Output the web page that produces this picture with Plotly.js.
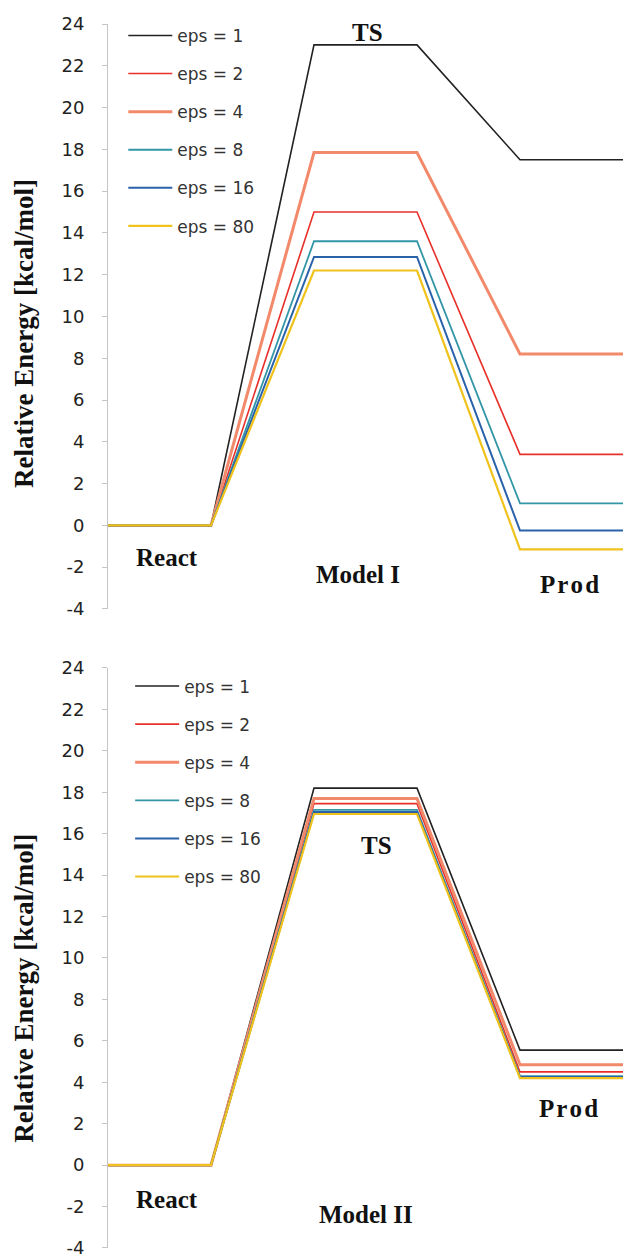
<!DOCTYPE html>
<html>
<head>
<meta charset="utf-8">
<script src="https://cdn.plot.ly/plotly-3.0.1.min.js"></script>
<style>
html,body{margin:0;padding:0;background:#fff;}
#chart{width:626px;height:1260px;}
</style>
</head>
<body>
<div id="chart"></div>
<script>
// Reaction coordinate positions: React (0-1), TS (2-3), Prod (4-5)
const stageX = [0, 1, 2, 3, 4, 5];
const seriesNames = ["eps = 1", "eps = 2", "eps = 4", "eps = 8", "eps = 16", "eps = 80"];

// Model I energies (kcal/mol)
const model1React = [0, 0, 0, 0, 0, 0];
const model1TS    = [23.0, 15.0, 17.85, 13.6, 12.85, 12.2];
const model1Prod  = [17.5, 3.4, 8.2, 1.05, -0.25, -1.15];

// Model II energies (kcal/mol)
const model2React = [0, 0, 0, 0, 0, 0];
const model2TS    = [18.2, 17.45, 17.7, 17.15, 17.05, 16.95];
const model2Prod  = [5.55, 4.5, 4.85, 4.3, 4.25, 4.2];

const yTicks = [-4, -2, 0, 2, 4, 6, 8, 10, 12, 14, 16, 18, 20, 22, 24];

const colors = ["#222222", "#e8302a", "#f2896a", "#3396a6", "#2a62aa", "#efc21c"];
const widths = [1.6, 1.6, 3.0, 1.8, 2.0, 2.2];

const traces = [];
function addModel(react, ts, prod, xa, ya, legendId) {
  for (let i = 0; i < seriesNames.length; i++) {
    traces.push({
      type: "scatter",
      mode: "lines",
      x: stageX,
      y: [react[i], react[i], ts[i], ts[i], prod[i], prod[i]],
      name: seriesNames[i],
      xaxis: xa,
      yaxis: ya,
      legend: legendId,
      legendgroup: legendId + "_" + i,
      line: {color: colors[i], width: widths[i]},
      hoverinfo: "skip"
    });
  }
}
addModel(model1React, model1TS, model1Prod, "x", "y", "legend");
addModel(model2React, model2TS, model2Prod, "x2", "y2", "legend2");

const tickFont = {family: "DejaVu Sans", size: 18, color: "#222"};
const serif = "Liberation Serif";
const titleFont = {family: serif, size: 27, color: "#111"};
const labelFont = {family: serif, size: 25, color: "#111"};

function yAxis(domain) {
  return {
    domain: domain,
    range: [-4, 24],
    tickvals: yTicks,
    ticktext: yTicks.map(String),
    showline: true,
    linecolor: "#c4c4c4",
    linewidth: 1,
    ticks: "outside",
    ticklen: 5,
    tickcolor: "#c4c4c4",
    tickfont: tickFont,
    ticklabelstandoff: 14,
    ticklabeloverflow: "allow",
    showgrid: false,
    zeroline: false,
    fixedrange: true
  };
}
function xAxis(anchor) {
  return {
    anchor: anchor,
    range: [0, 5],
    showline: false,
    showticklabels: false,
    ticks: "",
    showgrid: false,
    zeroline: false,
    fixedrange: true
  };
}

function label(text, x, y, xr, yr) {
  return {text: "<b>" + text + "</b>", x: x, y: y, xref: xr, yref: yr,
          showarrow: false, font: labelFont, xanchor: "center", yanchor: "middle"};
}
function yTitle(yr, yPos) {
  return {text: "<b>Relative Energy [kcal/mol]</b>", x: 0, y: yPos, xref: "paper", yref: yr,
          xshift: -84, textangle: -90, showarrow: false, font: titleFont,
          xanchor: "center", yanchor: "middle"};
}

const legendFont = {family: "DejaVu Sans", size: 17, color: "#333"};

const layout = {
  width: 626,
  height: 1260,
  margin: {l: 108, r: 3, t: 24, b: 12},
  paper_bgcolor: "#ffffff",
  plot_bgcolor: "#ffffff",
  showlegend: true,
  xaxis: xAxis("y"),
  yaxis: yAxis([0.5221, 1]),
  xaxis2: xAxis("y2"),
  yaxis2: yAxis([0, 0.4739]),
  legend: {
    x: 0.0297, y: 1.005, xanchor: "left", yanchor: "top",
    font: legendFont, bgcolor: "rgba(0,0,0,0)", tracegroupgap: 13,
    itemwidth: 44, traceorder: "grouped"
  },
  legend2: {
    x: 0.043, y: 0.4735, xanchor: "left", yanchor: "top",
    font: legendFont, bgcolor: "rgba(0,0,0,0)", tracegroupgap: 13,
    itemwidth: 44, traceorder: "grouped"
  },
  annotations: [
    yTitle("y domain", 0.47),
    yTitle("y2 domain", 0.447),
    label("TS", 2.52, 23.57, "x", "y"),
    label("React", 0.57, -1.56, "x", "y"),
    label("Model I", 2.43, -2.37, "x", "y"),
    label("P\u200Ar\u200Ao\u200Ad", 4.48, -2.85, "x", "y"),
    label("TS", 2.61, 15.44, "x2", "y2"),
    label("React", 0.57, -1.65, "x2", "y2"),
    label("Model II", 2.5, -2.36, "x2", "y2"),
    label("P\u200Ar\u200Ao\u200Ad", 4.47, 2.71, "x2", "y2")
  ]
};

Plotly.newPlot("chart", traces, layout, {staticPlot: true, displayModeBar: false});
</script>
</body>
</html>
